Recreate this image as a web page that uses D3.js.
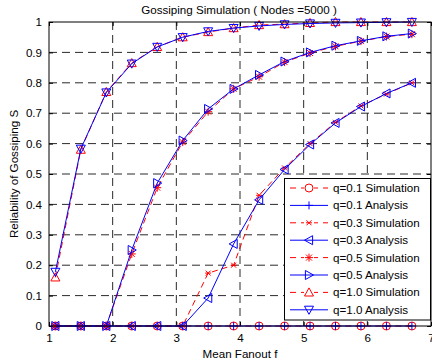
<!DOCTYPE html>
<html><head><meta charset="utf-8">
<script src="https://cdn.jsdelivr.net/npm/d3@7"></script>
<style>body{margin:0;background:#fff}text{font-family:"Liberation Sans",Arial,sans-serif}</style>
</head><body><svg id="c" width="432" height="364"></svg>
<script>
const fanout = [1.1,1.5,1.9,2.3,2.7,3.1,3.5,3.9,4.3,4.7,5.1,5.5,5.9,6.3,6.7];
const q01Sim = [0,0,0,0,0,0,0,0,0,0,0,0,0,0,0];
const q01Ana = [0,0,0,0,0,0,0,0,0,0,0,0,0,0,0];
const q03Sim = [0,0,0,0,0,0,0.174,0.20,0.43,0.52,0.60,0.67,0.724,0.763,0.80];
const q03Ana = [0,0,0,0,0,0,0.092,0.27,0.415,0.515,0.597,0.668,0.722,0.765,0.80];
const q05Sim = [0,0,0,0.237,0.455,0.605,0.705,0.78,0.82,0.868,0.898,0.92,0.937,0.952,0.96];
const q05Ana = [0,0,0,0.25,0.47,0.61,0.714,0.78,0.826,0.87,0.90,0.922,0.938,0.953,0.962];
const q10Sim = [0.16,0.58,0.77,0.865,0.918,0.95,0.967,0.98,0.99,0.993,0.997,1,1,1,1];
const q10Ana = [0.178,0.583,0.768,0.863,0.918,0.95,0.969,0.98,0.987,0.992,0.995,0.997,0.998,0.999,1];
const xTicks = [1,2,3,4,5,6,7];
const yTicks = [0,0.1,0.2,0.3,0.4,0.5,0.6,0.7,0.8,0.9,1];
const seriesNames = ["q=0.1 Simulation","q=0.1 Analysis","q=0.3 Simulation","q=0.3 Analysis","q=0.5 Simulation","q=0.5 Analysis","q=1.0 Simulation","q=1.0 Analysis"];

const series = [
 {name:seriesNames[0], v:q01Sim, c:"#ff0000", dash:"6,4", m:"circle"},
 {name:seriesNames[1], v:q01Ana, c:"#0000ff", dash:null, m:"plus"},
 {name:seriesNames[2], v:q03Sim, c:"#ff0000", dash:"6,4", m:"x"},
 {name:seriesNames[3], v:q03Ana, c:"#0000ff", dash:null, m:"tleft"},
 {name:seriesNames[4], v:q05Sim, c:"#ff0000", dash:"6,4", m:"star"},
 {name:seriesNames[5], v:q05Ana, c:"#0000ff", dash:null, m:"tright"},
 {name:seriesNames[6], v:q10Sim, c:"#ff0000", dash:"6,4", m:"tup"},
 {name:seriesNames[7], v:q10Ana, c:"#0000ff", dash:null, m:"tdown"}
];

const L=49,R=431,T=22,B=326;
const FS=11.6;
const x=d3.scaleLinear().domain([1,7]).range([L,R]);
const y=d3.scaleLinear().domain([0,1]).range([B,T]);
const svg=d3.select("#c");

// grid
const g=svg.append("g");
g.selectAll(".vg").data(xTicks.slice(1,-1)).join("line")
 .attr("x1",d=>x(d)).attr("x2",d=>x(d)).attr("y1",T).attr("y2",B)
 .attr("stroke","#2a2a2a").attr("stroke-dasharray","8,5").attr("stroke-width",1);
g.selectAll(".hg").data(yTicks.slice(1,-1)).join("line")
 .attr("y1",d=>y(d)).attr("y2",d=>y(d)).attr("x1",L).attr("x2",R)
 .attr("stroke","#2a2a2a").attr("stroke-dasharray","8,5").attr("stroke-width",1);

// axes
svg.append("g").attr("transform",`translate(0,${B})`)
 .call(d3.axisBottom(x).tickValues(xTicks).tickSize(-4).tickPadding(8).tickFormat(d3.format("d")));
svg.append("g").attr("transform",`translate(${L},0)`)
 .call(d3.axisLeft(y).tickValues(yTicks).tickSize(-4).tickPadding(7).tickFormat(d=>d===0?"0":d===1?"1":d3.format(".1f")(d)));
svg.append("g").attr("transform",`translate(0,${T})`)
 .call(d3.axisTop(x).tickValues(xTicks).tickSize(-4).tickFormat(""));
svg.append("g").attr("transform",`translate(${R},0)`)
 .call(d3.axisRight(y).tickValues(yTicks).tickSize(-4).tickFormat(""));
svg.selectAll(".domain").remove();
svg.selectAll(".tick line").attr("stroke","#000");
svg.selectAll(".tick text").attr("font-size",FS).attr("fill","#000").attr("font-family","Liberation Sans, Arial, sans-serif");

function marker(sel,type,c){
 const s=4.5;
 if(type==="circle") sel.append("circle").attr("r",4).attr("fill","none").attr("stroke",c);
 else if(type==="plus") sel.append("path").attr("d",`M-4,0H4M0,-4V4`).attr("stroke",c);
 else if(type==="x") sel.append("path").attr("d",`M-2.5,-2.5L2.5,2.5M-2.5,2.5L2.5,-2.5M-3,0H3`).attr("stroke",c);
 else if(type==="star") sel.append("path").attr("d",`M-4,0H4M0,-4V4M-3,-3L3,3M-3,3L3,-3`).attr("stroke",c);
 else {
  let p;
  if(type==="tup") p=`M0,${-s}L${s},${s*0.8}L${-s},${s*0.8}Z`;
  if(type==="tdown") p=`M0,${s}L${s},${-s*0.8}L${-s},${-s*0.8}Z`;
  if(type==="tleft") p=`M${-s},0L${s*0.8},${s}L${s*0.8},${-s}Z`;
  if(type==="tright") p=`M${s},0L${-s*0.8},${s}L${-s*0.8},${-s}Z`;
  sel.append("path").attr("d",p).attr("fill","none").attr("stroke",c);
 }
}

const line=d3.line().x((d,i)=>x(fanout[i])).y(d=>y(d));
const plot=svg.append("g");
series.forEach(s=>{
 plot.append("path").attr("d",line(s.v)).attr("fill","none").attr("stroke",s.c)
  .attr("stroke-width",1).attr("stroke-dasharray",s.dash);
 s.v.forEach((v,i)=>{
  const m=plot.append("g").attr("transform",`translate(${x(fanout[i])},${y(v)})`);
  marker(m,s.m,s.c);
 });
});

// frame
svg.append("rect").attr("x",L).attr("y",T).attr("width",R-L).attr("height",B-T)
 .attr("fill","none").attr("stroke","#000").attr("stroke-width",1);

// legend
const lg=svg.append("g");
lg.append("rect").attr("x",284.5).attr("y",178.5).attr("width",146).attr("height",141.5)
 .attr("fill","#fff").attr("stroke","#000");
series.forEach((s,i)=>{
 const yy=188+i*17.4;
 lg.append("line").attr("x1",290).attr("x2",328).attr("y1",yy).attr("y2",yy)
  .attr("stroke",s.c).attr("stroke-dasharray",s.dash?"6,5":null);
 const m=lg.append("g").attr("transform",`translate(309,${yy})`);
 if(s.dash) m.append("rect").attr("x",-5).attr("y",-6).attr("width",10).attr("height",12).attr("fill","#fff");
 marker(m,s.m,s.c);
 lg.append("text").attr("x",333).attr("y",yy).attr("dy","0.35em").attr("font-size",FS).text(s.name);
});

// labels
svg.append("text").attr("x",239).attr("y",14).attr("text-anchor","middle").attr("font-size",FS).text("Gossiping Simulation ( Nodes =5000 )");
svg.append("text").attr("x",240).attr("y",358).attr("text-anchor","middle").attr("font-size",FS).text("Mean Fanout f");
svg.append("text").attr("transform",`translate(18,${(T+B)/2}) rotate(-90)`).attr("text-anchor","middle").attr("font-size",FS).text("Reliability of Gossiping S");
</script></body></html>
